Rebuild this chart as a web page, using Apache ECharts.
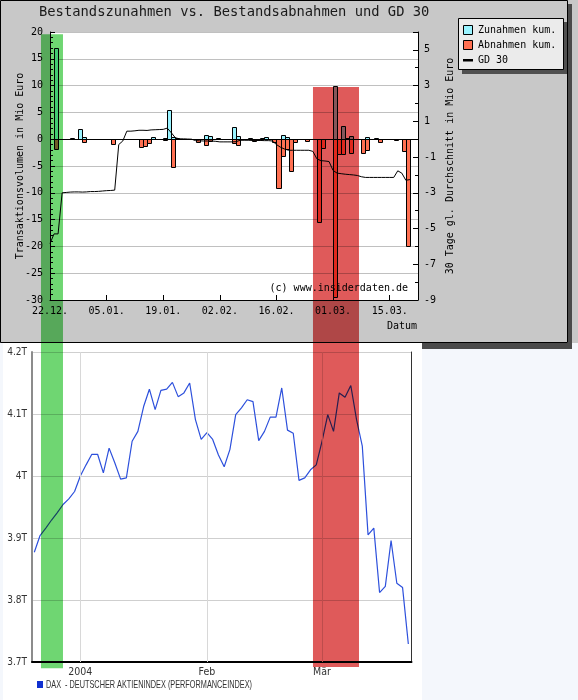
<!DOCTYPE html>
<html><head><meta charset="utf-8">
<script src="https://cdn.jsdelivr.net/npm/echarts@6/dist/echarts.min.js"></script>
<style>html,body{margin:0;padding:0;background:#f4f7fc}#c{width:578px;height:700px}</style>
</head><body><div id="c"></div><script>
// ---------- data ----------
const xTickDays = [0, 14, 28, 42, 56, 70, 84];
const xTickLabels = ['22.12.', '05.01.', '19.01.', '02.02.', '16.02.', '01.03.', '15.03.'];
// [day offset from 22.12.2003, Mio Euro]
const zunahmen = [[1,17.1],[5,0.2],[7,1.9],[8,0.45],[25,0.45],[28,0.25],[29,5.4],[30,0.45],[31,0.3],
  [38,0.75],[39,0.65],[41,0.2],[45,2.3],[46,0.55],[49,0.15],[52,0.3],[53,0.4],[57,0.75],[58,0.45],
  [70,10.0],[72,2.5],[73,0.15],[74,0.55],[78,0.35],[80,0.25]];
const abnahmen = [[1,-1.75],[8,-0.6],[15,-0.95],[22,-1.5],[23,-1.2],[24,-0.75],[28,-0.15],[30,-5.2],
  [36,-0.5],[38,-1.1],[39,-0.3],[45,-0.75],[46,-1.1],[50,-0.3],[51,-0.15],[55,-0.45],[56,-9.1],
  [57,-3.1],[58,-1.8],[59,-6.0],[60,-0.6],[63,-0.4],[66,-15.4],[67,-1.7],[70,-29.5],[71,-2.8],
  [72,-2.8],[74,-2.6],[77,-2.6],[78,-2.05],[81,-0.5],[85,-0.15],[87,-2.2],[88,-20.0]];
// GD 30, one value per day from day 0
const gd30 = [-5.84,-5.3,-5.3,-3.0,-2.98,-2.96,-2.95,-2.95,-2.96,-2.95,-2.93,-2.93,-2.92,-2.9,-2.88,-2.87,
  -2.85,-0.3,-0.1,0.45,0.45,0.47,0.5,0.5,0.49,0.52,0.53,0.54,0.55,0.62,0.36,0.08,0.02,0.02,0.01,0.0,
  -0.08,-0.09,-0.1,-0.1,-0.1,-0.12,-0.15,-0.15,-0.15,-0.15,-0.14,-0.06,-0.06,-0.06,-0.07,-0.07,-0.07,
  -0.08,-0.08,-0.1,-0.3,-0.45,-0.55,-0.62,-0.62,-0.62,-0.62,-0.62,-0.62,-0.68,-1.1,-1.2,-1.22,-1.25,
  -1.75,-1.9,-1.93,-1.96,-1.98,-2.0,-2.03,-2.1,-2.14,-2.14,-2.14,-2.14,-2.14,-2.14,-2.14,-2.14,-1.77,
  -1.9,-2.3,-2.26];
const leftTicksLabelStep = 5;
const daxValues = [3877,3904,3916,3929,3941,3954,3963,3975,4000,4018,4035,4035,4005,4045,4021,3995,3997,
  4056,4072,4112,4140,4107,4138,4140,4151,4128,4134,4150,4091,4059,4070,4059,4034,4015,4043,4099,4110,
  4123,4120,4057,4072,4095,4095,4142,4074,4069,3993,3997,4010,4018,4056,4099,4072,4134,4127,4146,4091,
  4048,3905,3916,3812,3822,3896,3827,3820,3729];
const daxMonthIdx = [8, 30, 50];
const daxMonthLabels = ['2004', 'Feb', 'Mär'];
const daxTicks = [3700, 3800, 3900, 4000, 4100, 4200];
const daxTickLabels = ['3.7T', '3.8T', '3.9T', '4T', '4.1T', '4.2T'];
const greenDays = [-2.23, 3.21];
const redDays = [65.03, 76.41];

// ---------- chart ----------
const MONO = '"DejaVu Sans Mono", monospace';
const NARROW = '"Liberation Sans Narrow", "DejaVu Sans Condensed", "Liberation Sans", sans-serif';
const CYAN = '#99f3ff', SALMON = '#ff7052';
const chart = echarts.init(document.getElementById('c'), null, {renderer: 'canvas', width: 578, height: 700});

function barRenderer(color) {
  return function (params, api) {
    const d = api.value(0), v = api.value(1);
    const p0 = api.coord([d, 0]), p1 = api.coord([d + 1, v]);
    const x0 = Math.round(p0[0]), x1 = Math.round(p1[0]);
    const y0 = Math.round(p0[1]), y1 = Math.round(p1[1]);
    return {type: 'rect', shape: {x: x0 + 0.5, y: Math.min(y0, y1) + 0.5, width: x1 - x0, height: Math.abs(y1 - y0)},
      style: {fill: color, stroke: '#000', lineWidth: 1}};
  };
}
const mono10 = {fontFamily: MONO, fontSize: 10, color: '#000'};

chart.setOption({
  backgroundColor: '#f4f7fc',
  animation: false,
  title: {text: 'Bestandszunahmen vs. Bestandsabnahmen und GD 30', left: 39, top: 5, padding: 0,
    textStyle: {fontFamily: MONO, fontSize: 13.8, fontWeight: 'normal', color: '#1a1a1a'}},
  grid: [
    {left: 50, top: 32, width: 368, height: 268, show: true, backgroundColor: '#fff', borderWidth: 0, outerBoundsMode: 'none', containLabel: false},
    {left: 32, top: 352, width: 379.5, height: 310, show: true, backgroundColor: '#fff', borderWidth: 0, outerBoundsMode: 'none', containLabel: false}
  ],
  xAxis: [
    {type: 'value', gridIndex: 0, min: 0, max: 91, interval: 14, position: 'bottom',
      axisLine: {onZero: false, lineStyle: {color: '#000', width: 1}},
      axisTick: {inside: true, length: 5, lineStyle: {color: '#000'}},
      axisLabel: Object.assign({margin: 6, showMaxLabel: false,
        formatter: v => { const k = xTickDays.indexOf(v); return k >= 0 ? xTickLabels[k] : ''; }}, mono10),
      splitLine: {show: false}},
    {type: 'value', gridIndex: 1, min: -0.4, max: 65.55, position: 'bottom',
      axisLine: {onZero: false, lineStyle: {color: '#000', width: 2}},
      axisTick: {show: false},
      axisLabel: {customValues: daxMonthIdx, margin: 5, fontFamily: NARROW, fontSize: 10.5, color: '#333',
        formatter: v => { const k = daxMonthIdx.indexOf(v); return k >= 0 ? daxMonthLabels[k] : ''; }},
      splitLine: {show: false}}
  ],
  yAxis: [
    {type: 'value', gridIndex: 0, position: 'left', min: -30, max: 20, interval: leftTicksLabelStep,
      axisLine: {onZero: false, lineStyle: {color: '#000'}},
      axisTick: {inside: true, length: 5, lineStyle: {color: '#000'}},
      minorTick: {show: true, splitNumber: 5, length: 3, lineStyle: {color: '#000'}},
      axisLabel: Object.assign({margin: 7}, mono10),
      splitLine: {show: true, lineStyle: {color: '#c0c0c0', width: 1}},
      name: 'Transaktionsvolumen in Mio Euro', nameLocation: 'middle', nameGap: 25, nameRotate: 90,
      nameMoveOverlap: false, nameTextStyle: mono10},
    {type: 'value', gridIndex: 0, position: 'right', min: -9, max: 6, interval: 2,
      axisLine: {onZero: false, lineStyle: {color: '#000'}},
      axisTick: {inside: true, length: 5, lineStyle: {color: '#000'}},
      minorTick: {show: true, splitNumber: 2, length: 3, lineStyle: {color: '#000'}},
      axisLabel: Object.assign({margin: 6, showMaxLabel: false}, mono10),
      splitLine: {show: false},
      name: '30 Tage gl. Durchschnitt in Mio Euro', nameLocation: 'middle', nameGap: 27, nameRotate: 90,
      nameMoveOverlap: false, nameTextStyle: mono10},
    {type: 'value', gridIndex: 1, position: 'left', min: 3700, max: 4200, interval: 100,
      axisLine: {show: true, onZero: false, lineStyle: {color: '#8c8c8c', width: 2}},
      axisTick: {show: false},
      axisLabel: {margin: 5, fontFamily: NARROW, fontSize: 10, color: '#333',
        formatter: v => { const k = daxTicks.indexOf(v); return k >= 0 ? daxTickLabels[k] : ''; }},
      splitLine: {show: true, lineStyle: {color: '#cfcfcf', width: 1}}},
    {type: 'value', gridIndex: 1, position: 'right', min: 3700, max: 4200,
      axisLine: {show: true, onZero: false, lineStyle: {color: '#333', width: 1}},
      axisTick: {show: false}, axisLabel: {show: false}, splitLine: {show: false}}
  ],
  series: [
    {name: 'Zunahmen kum.', type: 'custom', xAxisIndex: 0, yAxisIndex: 0, renderItem: barRenderer(CYAN),
      encode: {x: 0, y: 1}, data: zunahmen, z: 2},
    {name: 'Abnahmen kum.', type: 'custom', xAxisIndex: 0, yAxisIndex: 0, renderItem: barRenderer(SALMON),
      encode: {x: 0, y: 1}, data: abnahmen, z: 2},
    {name: 'GD 30', type: 'line', xAxisIndex: 0, yAxisIndex: 1, showSymbol: false, symbol: 'none',
      data: gd30.map((v, i) => [i, v]), lineStyle: {color: '#000', width: 1}, itemStyle: {color: '#000'}, z: 4,
      markLine: {silent: true, symbol: 'none', label: {show: false}, animation: false,
        lineStyle: {color: '#000', width: 1, type: 'solid'}, data: [{yAxis: 0}]}},
    {name: 'DAX', type: 'line', xAxisIndex: 1, yAxisIndex: 2, showSymbol: false, symbol: 'none',
      data: daxValues.map((v, i) => [i, v]), lineStyle: {color: '#2d50dc', width: 1.2}, itemStyle: {color: '#2d50dc'}, z: 3,
      markLine: {silent: true, symbol: 'none', label: {show: false}, animation: false,
        lineStyle: {color: '#d8d8d8', width: 1, type: 'solid'}, data: daxMonthIdx.map(i => ({xAxis: i}))}}
  ]
});

// ---------- decorations / overlays ----------
const legendText = 'DAX  - DEUTSCHER AKTIENINDEX (PERFORMANCEINDEX)';
const mctx = document.createElement('canvas').getContext('2d');
mctx.font = '11px "Liberation Sans"';
const legendScale = 206 / mctx.measureText(legendText).width;

const gx0 = chart.convertToPixel({xAxisIndex: 0}, greenDays[0]);
const gx1 = chart.convertToPixel({xAxisIndex: 0}, greenDays[1]);
const rx0 = chart.convertToPixel({xAxisIndex: 0}, redDays[0]);
const rx1 = chart.convertToPixel({xAxisIndex: 0}, redDays[1]);
const gyTop = chart.convertToPixel({yAxisIndex: 0}, 19.6);
const ryTop = chart.convertToPixel({yAxisIndex: 0}, 9.74);
const gyBot = chart.convertToPixel({yAxisIndex: 2}, 3690);
const ryBot = chart.convertToPixel({yAxisIndex: 2}, 3692);

chart.setOption({
  graphic: [
    {type: 'rect', z: -20, shape: {x: 0, y: 0, width: 578, height: 343}, style: {fill: '#c8c8c8'}},
    {type: 'rect', z: -19, shape: {x: 0.5, y: 0.5, width: 567, height: 342}, style: {fill: 'none', stroke: '#000', lineWidth: 1}},
    {type: 'rect', z: -19, shape: {x: 568, y: 4, width: 4, height: 345}, style: {fill: '#4a4a4a'}},
    {type: 'rect', z: -19, shape: {x: 422, y: 343, width: 150, height: 6}, style: {fill: '#4a4a4a'}},
    {type: 'rect', z: -18, shape: {x: 3, y: 343, width: 419, height: 357}, style: {fill: '#ffffff'}},
    // top legend
    {type: 'rect', z: 50, shape: {x: 462, y: 22, width: 105, height: 52}, style: {fill: '#505050'}},
    {type: 'rect', z: 51, shape: {x: 458.5, y: 18.5, width: 105, height: 51}, style: {fill: '#ebebeb', stroke: '#000', lineWidth: 1}},
    {type: 'rect', z: 52, shape: {x: 463.5, y: 25.5, width: 9, height: 9}, style: {fill: CYAN, stroke: '#000', lineWidth: 1}},
    {type: 'rect', z: 52, shape: {x: 463.5, y: 40.5, width: 9, height: 9}, style: {fill: SALMON, stroke: '#000', lineWidth: 1}},
    {type: 'rect', z: 52, shape: {x: 463, y: 59, width: 10, height: 2.5}, style: {fill: '#000'}},
    {type: 'text', z: 52, x: 478, y: 30, style: {text: 'Zunahmen kum.', fontFamily: MONO, fontSize: 10, fill: '#000', verticalAlign: 'middle'}},
    {type: 'text', z: 52, x: 478, y: 45, style: {text: 'Abnahmen kum.', fontFamily: MONO, fontSize: 10, fill: '#000', verticalAlign: 'middle'}},
    {type: 'text', z: 52, x: 478, y: 60, style: {text: 'GD 30', fontFamily: MONO, fontSize: 10, fill: '#000', verticalAlign: 'middle'}},
    {type: 'text', z: 52, x: 417, y: 326, style: {text: 'Datum', fontFamily: MONO, fontSize: 10, fill: '#000', align: 'right', verticalAlign: 'middle'}},
    {type: 'text', z: 52, x: 408, y: 288, style: {text: '(c) www.insiderdaten.de', fontFamily: MONO, fontSize: 10, fill: '#000', align: 'right', verticalAlign: 'middle'}},
    // bottom legend
    {type: 'rect', z: 52, shape: {x: 37, y: 681, width: 6, height: 7}, style: {fill: '#1030d0'}},
    {type: 'text', z: 52, x: 46, y: 685, scaleX: legendScale, style: {text: legendText, fontFamily: '"Liberation Sans"', fontSize: 11, fill: '#333', verticalAlign: 'middle'}},
    // highlight overlays (multiply)
    {type: 'rect', z: 100, shape: {x: gx0, y: gyTop, width: gx1 - gx0, height: gyBot - gyTop}, style: {fill: '#6fd672', blend: 'multiply'}},
    {type: 'rect', z: 100, shape: {x: rx0, y: ryTop, width: rx1 - rx0, height: ryBot - ryTop}, style: {fill: '#df5a5a', blend: 'multiply'}}
  ]
});
</script></body></html>
